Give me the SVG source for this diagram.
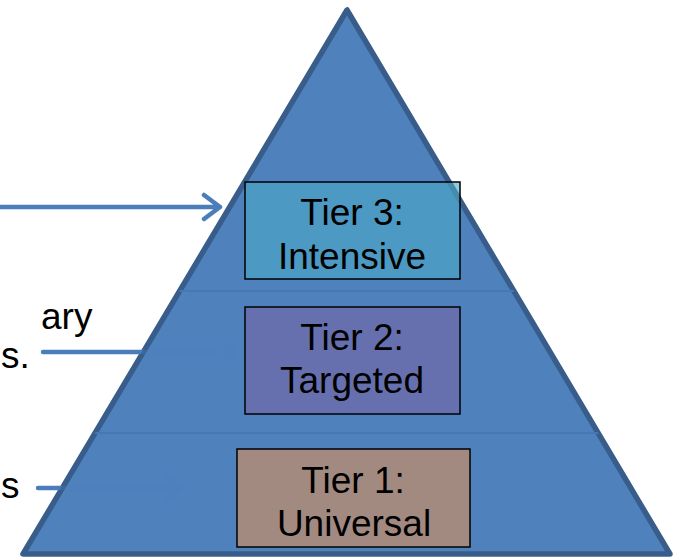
<svg xmlns="http://www.w3.org/2000/svg" width="675" height="558" viewBox="0 0 675 558">
<style>
.lbl{font-family:"Liberation Sans",Arial,sans-serif;font-size:37px;fill:#000}
.tier{font-family:"Liberation Sans",Arial,sans-serif;font-size:37px;fill:#000;text-anchor:middle}
.box{stroke:#000;stroke-width:1.5}
.arr{fill:none;stroke:#4A7EBB;stroke-width:4.5;stroke-linecap:round;stroke-linejoin:round}
.sep{stroke:#4778B4;stroke-width:2}
</style>
<defs>
<clipPath id="tri"><polygon points="347,10 23,554 670,554"/></clipPath>
<mask id="fade" maskUnits="userSpaceOnUse" x="0" y="0" width="675" height="558">
<rect x="0" y="0" width="675" height="558" fill="#fff"/>
<polygon points="347,8 20,556 673,556" fill="#4d4d4d"/>
</mask>
</defs>
<g id="pyramid">
<polygon points="347,10 23,554 670,554" fill="#4F81BD" stroke="#385D8A" stroke-width="5.5" stroke-linejoin="round"/>
<g clip-path="url(#tri)">
<line class="sep" x1="0" y1="291" x2="675" y2="291"/>
<line class="sep" x1="0" y1="433" x2="675" y2="433"/>
</g>
</g>
<g id="labels">
<text class="lbl" x="41" y="329">ary</text>
<text class="lbl" x="1" y="368">s.</text>
<text class="lbl" x="1" y="498">s</text>
</g>
<g id="connectors" mask="url(#fade)">
<path class="arr" d="M0,207 H220 M204,195 L220,207 L204,219"/>
<path class="arr" d="M43,352 H234 M218,340 L234,352 L218,364"/>
<path class="arr" d="M38,488 H181 M165,476 L181,488 L165,500"/>
</g>
<g id="tier3">
<rect class="box" x="245" y="182" width="215" height="97" fill="#4BACC6" fill-opacity="0.6"/>
<text class="tier" x="352" y="225">Tier 3:</text>
<text class="tier" x="352" y="269">Intensive</text>
</g>
<g id="tier2">
<rect class="box" x="245" y="307" width="215" height="107" fill="#6670AF"/>
<text class="tier" x="352" y="350">Tier 2:</text>
<text class="tier" x="352" y="393">Targeted</text>
</g>
<g id="tier1">
<rect class="box" x="237" y="449" width="233" height="98" fill="#A38A81"/>
<text class="tier" x="353" y="493">Tier 1:</text>
<text class="tier" x="354" y="536">Universal</text>
</g>
</svg>
